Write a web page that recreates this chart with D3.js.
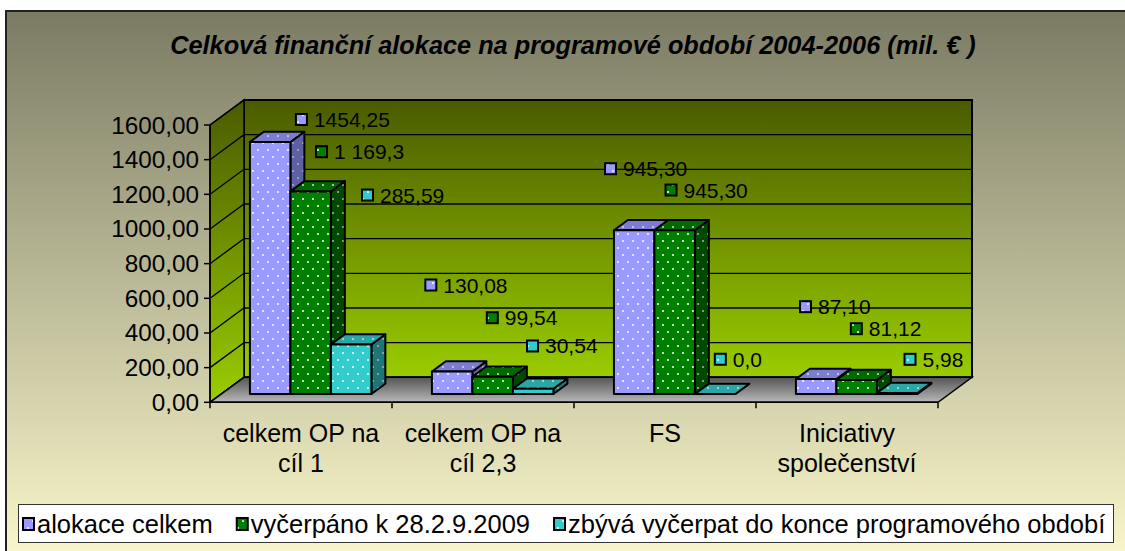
<!DOCTYPE html>
<html>
<head>
<meta charset="utf-8">
<script src="https://cdn.jsdelivr.net/npm/d3@7/dist/d3.min.js"></script>
<style>
  body { margin: 0; background: #fff; }
  svg text { font-family: "Liberation Sans", Arial, sans-serif; fill: #000; }
</style>
</head>
<body>
<div id="chart"></div>
<script>
// —— Data ——
const categories = [["celkem OP na", "cíl 1"], ["celkem OP na", "cíl 2,3"], ["FS"], ["Iniciativy", "společenství"]];
const seriesNames = ["alokace celkem", "vyčerpáno k 28.2.9.2009", "zbývá vyčerpat do konce programového období"];
const alokaceCelkem = [1454.25, 130.08, 945.30, 87.10];
const vycerpano = [1169.3, 99.54, 945.30, 81.12];
const zbyva = [285.59, 30.54, 0.0, 5.98];
const labelsAlokace = ["1454,25", "130,08", "945,30", "87,10"];
const labelsVycerpano = ["1 169,3", "99,54", "945,30", "81,12"];
const labelsZbyva = ["285,59", "30,54", "0,0", "5,98"];
const yTicks = [0, 200, 400, 600, 800, 1000, 1200, 1400, 1600];
const titleText = "Celková finanční alokace na programové období 2004-2006 (mil. € )";

// —— Layout ——
const W = 1125, H = 551;
const PLOT = { left: 210, right: 938, bottom: 402.3, top: 125 };
const DEPTH = { dx: 34, dy: 25 };          // floor depth offset
const BAR_DEPTH = { front: 0.33, back: 0.74 };
const COLORS = [
  { front: "#9999ff", top: "#7c7cd2", side: "#5f5fa6" },
  { front: "#008000", top: "#006a00", side: "#004a00" },
  { front: "#33cccc", top: "#29a6a6", side: "#1f7676" },
];
// manual label offsets (marker left, marker centre) from each bar's front-top-left corner
const LABEL_NUDGE = [
  [[45, -22.5], [-7.6, -86.5], [-9.9, -61.5], [3.1, -72.3]],
  [[24.6, -39.7], [13.4, -59.1], [10.1, -40.2], [13.4, -51.3]],
  [[30.1, -149.5], [13.1, -42.8], [18.9, -34.8], [26.6, -33.7]],
];

const series = [
  { name: seriesNames[0], values: alokaceCelkem, labels: labelsAlokace },
  { name: seriesNames[1], values: vycerpano, labels: labelsVycerpano },
  { name: seriesNames[2], values: zbyva, labels: labelsZbyva },
];

const svg = d3.select("#chart").append("svg")
  .attr("width", W).attr("height", H)
  .attr("viewBox", `0 0 ${W} ${H}`);

const defs = svg.append("defs");

function linGrad(id, stops) {
  const g = defs.append("linearGradient").attr("id", id)
    .attr("x1", 0).attr("y1", 0).attr("x2", 0).attr("y2", 1);
  stops.forEach(([o, c]) => g.append("stop").attr("offset", o).attr("stop-color", c));
}
linGrad("bgGrad", [[0, "#7b7b64"], [1, "#fbf8cb"]]);
linGrad("wallGrad", [[0, "#4a5b00"], [1, "#9acc00"]]);
linGrad("floorGrad", [[0, "#555555"], [1, "#b8b8b8"]]);

// dotted fills for bar faces
function dotPattern(id, color, dot) {
  const p = defs.append("pattern").attr("id", id)
    .attr("patternUnits", "userSpaceOnUse")
    .attr("width", 10).attr("height", 14);
  p.append("rect").attr("width", 10).attr("height", 14).attr("fill", color);
  [[3, 3], [8, 10]].forEach(([cx, cy]) =>
    p.append("circle").attr("cx", cx).attr("cy", cy).attr("r", 1).attr("fill", dot));
}
COLORS.forEach((c, i) => {
  dotPattern(`p${i}front`, c.front, "#ffffff");
  dotPattern(`p${i}top`, c.top, "#d8d8d8");
  dotPattern(`p${i}side`, c.side, "#b0b0b0");
});

// —— Background ——
svg.append("rect")
  .attr("x", 6).attr("y", 11).attr("width", W + 10).attr("height", H)
  .attr("fill", "url(#bgGrad)")
  .attr("stroke", "#222").attr("stroke-width", 2);

svg.append("text")
  .attr("x", 573).attr("y", 54)
  .attr("text-anchor", "middle")
  .attr("font-size", 25.3).attr("font-weight", "bold").attr("font-style", "italic")
  .text(titleText);

// —— Scales ——
const x = d3.scaleBand().domain(d3.range(categories.length))
  .range([PLOT.left, PLOT.right]);
const xs = d3.scaleBand().domain(d3.range(series.length))
  .range([28.7, 150.2]);
const y = d3.scaleLinear().domain([0, 1600]).range([PLOT.bottom, PLOT.top]);

const proj = (px, py, d) => [px + DEPTH.dx * d, py - DEPTH.dy * d];
const pts = (arr) => arr.map((p) => p.join(",")).join(" ");

// —— Walls ——
const walls = svg.append("g");
const yMax = 1600;
// back wall
walls.append("polygon")
  .attr("points", pts([
    proj(PLOT.left, y(yMax), 1), proj(PLOT.right, y(yMax), 1),
    proj(PLOT.right, y(0), 1), proj(PLOT.left, y(0), 1),
  ]))
  .attr("fill", "url(#wallGrad)").attr("stroke", "#000").attr("stroke-width", 2);
// left wall
walls.append("polygon")
  .attr("points", pts([
    [PLOT.left, y(yMax)], proj(PLOT.left, y(yMax), 1),
    proj(PLOT.left, y(0), 1), [PLOT.left, y(0)],
  ]))
  .attr("fill", "url(#wallGrad)").attr("stroke", "#000").attr("stroke-width", 1.5);

// gridlines
yTicks.forEach((t) => {
  const a = [PLOT.left, y(t)], b = proj(PLOT.left, y(t), 1), c = proj(PLOT.right, y(t), 1);
  walls.append("polyline").attr("points", pts([a, b, c]))
    .attr("fill", "none").attr("stroke", "#000").attr("stroke-width", 1.3);
});

// floor
walls.append("polygon")
  .attr("points", pts([
    [PLOT.left, y(0)], [PLOT.right, y(0)],
    proj(PLOT.right, y(0), 1), proj(PLOT.left, y(0), 1),
  ]))
  .attr("fill", "url(#floorGrad)").attr("stroke", "#000").attr("stroke-width", 1.5);

// —— Axes ——
const axes = svg.append("g").attr("stroke", "#000").attr("stroke-width", 1.5);
axes.append("line").attr("x1", PLOT.left).attr("x2", PLOT.left)
  .attr("y1", y(yMax)).attr("y2", y(0));
axes.append("line").attr("x1", PLOT.left).attr("x2", PLOT.right)
  .attr("y1", y(0)).attr("y2", y(0));
yTicks.forEach((t) => {
  axes.append("line").attr("x1", PLOT.left - 6).attr("x2", PLOT.left)
    .attr("y1", y(t)).attr("y2", y(t));
});
d3.range(categories.length + 1).forEach((i) => {
  const xx = i < categories.length ? x(i) : PLOT.right;
  axes.append("line").attr("x1", xx).attr("x2", xx)
    .attr("y1", y(0)).attr("y2", y(0) + 6);
});

const fmt = (v) => d3.format(".2f")(v).replace(".", ",");
svg.append("g").selectAll("text").data(yTicks).join("text")
  .attr("x", PLOT.left - 11).attr("y", (d) => y(d) + 8.5)
  .attr("text-anchor", "end").attr("font-size", 24.3)
  .text(fmt);

svg.append("g").selectAll("text").data(categories).join("text")
  .attr("text-anchor", "middle").attr("font-size", 25)
  .attr("x", (d, i) => x(i) + x.bandwidth() / 2)
  .attr("y", 442)
  .each(function (d, i) {
    const t = d3.select(this);
    d.forEach((line, k) => {
      t.append("tspan").attr("x", x(i) + x.bandwidth() / 2)
        .attr("dy", k === 0 ? 0 : 30).text(line);
    });
  });

// —— Bars ——
const bars = svg.append("g").attr("stroke", "#000").attr("stroke-width", 2)
  .attr("stroke-linejoin", "round");
const barRects = [];
d3.range(categories.length).forEach((ci) => {
  series.forEach((s, si) => {
    const x0 = x(ci) + xs(si), x1 = x0 + xs.bandwidth();
    const v = s.values[ci];
    const f = BAR_DEPTH.front, b = BAR_DEPTH.back;
    const fTL = proj(x0, y(v), f), fTR = proj(x1, y(v), f);
    const fBR = proj(x1, y(0), f), fBL = proj(x0, y(0), f);
    const bTL = proj(x0, y(v), b), bTR = proj(x1, y(v), b), bBR = proj(x1, y(0), b);
    bars.append("polygon").attr("points", pts([fTR, bTR, bBR, fBR]))
      .attr("fill", `url(#p${si}side)`);
    bars.append("polygon").attr("points", pts([fTL, fTR, bTR, bTL]))
      .attr("fill", `url(#p${si}top)`);
    if (y(0) - y(v) > 0.5) {
      bars.append("polygon").attr("points", pts([fTL, fTR, fBR, fBL]))
        .attr("fill", `url(#p${si}front)`);
    }
    barRects.push({ ci, si, anchor: fTL });
  });
});

// —— Data labels ——
const labels = svg.append("g");
barRects.forEach(({ ci, si, anchor }) => {
  const [nx, ny] = LABEL_NUDGE[si][ci];
  const mx = anchor[0] + nx, my = anchor[1] + ny;
  labels.append("rect")
    .attr("x", mx + 1).attr("y", my - 5.5).attr("width", 11).attr("height", 11)
    .attr("fill", `url(#p${si}front)`).attr("stroke", "#000").attr("stroke-width", 2);
  labels.append("text")
    .attr("x", mx + 19).attr("y", my + 7.5)
    .attr("font-size", 21)
    .text(series[si].labels[ci]);
});

// —— Legend ——
const legend = svg.append("g");
legend.append("rect")
  .attr("x", 18.5).attr("y", 504.5).attr("width", 1095).attr("height", 38)
  .attr("fill", "#fff").attr("stroke", "#333").attr("stroke-width", 1);
let lx = 23;
series.forEach((s, si) => {
  legend.append("rect")
    .attr("x", lx).attr("y", 518).attr("width", 11).attr("height", 12)
    .attr("fill", `url(#p${si}front)`).attr("stroke", "#000").attr("stroke-width", 2);
  const t = legend.append("text")
    .attr("x", lx + 14).attr("y", 532.5).attr("font-size", 25.5)
    .text(s.name);
  lx += 14 + t.node().getComputedTextLength() + 24;
});
</script>
</body>
</html>
